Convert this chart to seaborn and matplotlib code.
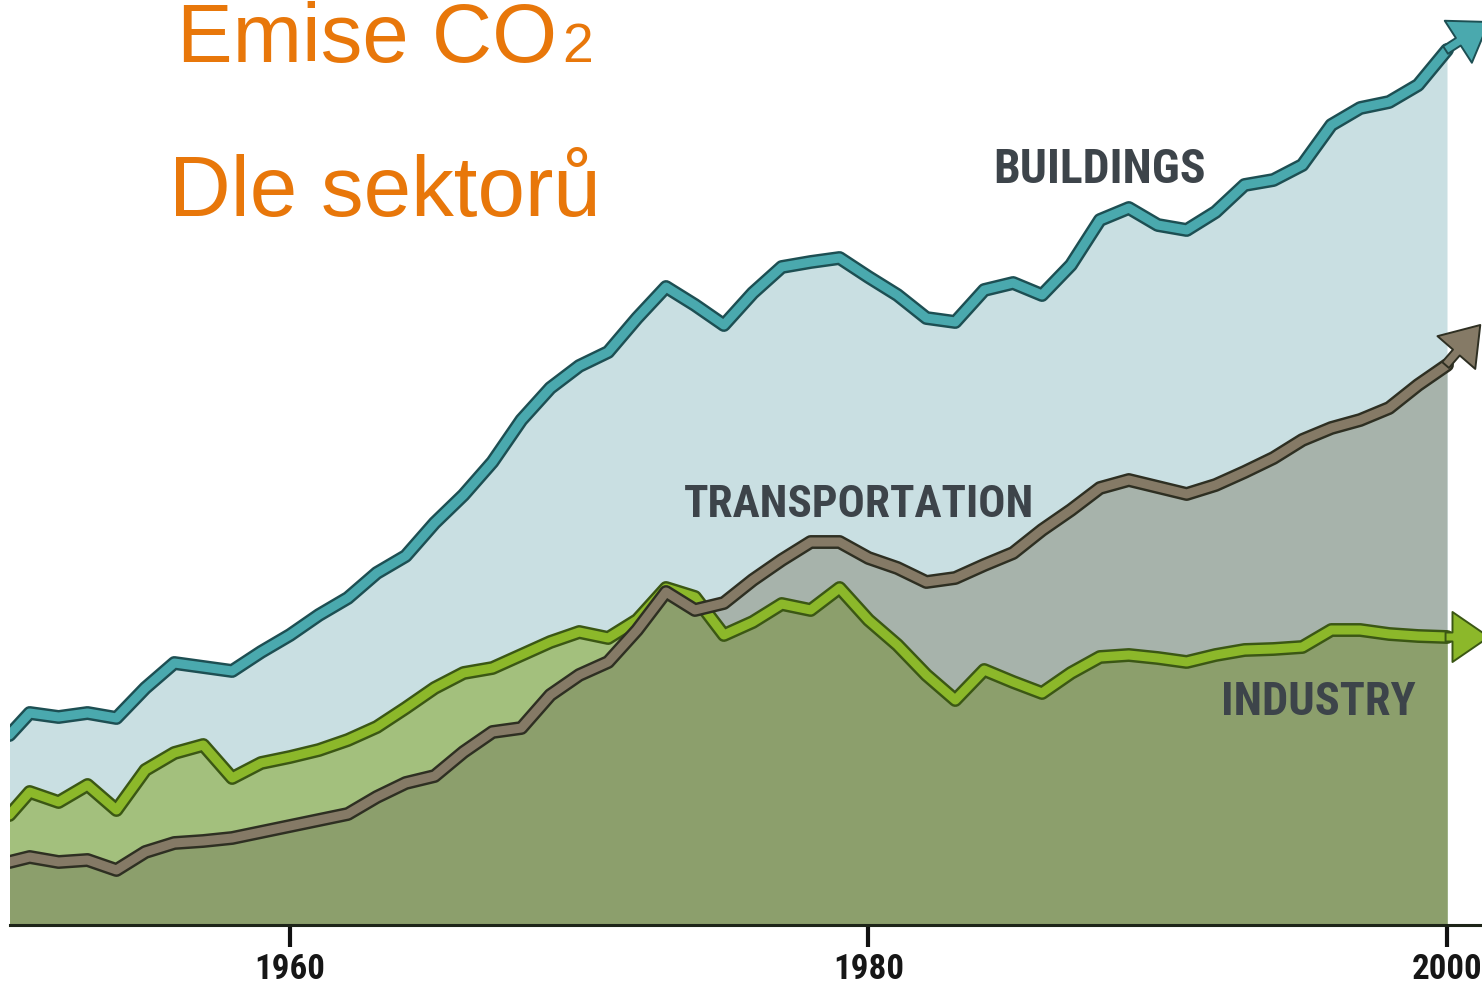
import matplotlib
matplotlib.use("Agg")
import matplotlib.pyplot as plt
import matplotlib.patheffects as pe
from matplotlib.patches import FancyArrowPatch
from matplotlib import font_manager
import numpy as np
import pandas as pd
import seaborn as sns

# values (relative units, 0 = baseline)
years = [1950.3] + list(range(1951, 2001))
buildings = [190, 212, 208, 212, 207, 237, 262, 258, 254, 273,
             290, 310, 327, 352, 369, 402, 430, 463, 505, 537,
             559, 573, 607, 638, 620, 600, 632, 658, 663, 667,
             648, 630, 607, 603, 635, 642, 630, 660, 705, 717,
             700, 695, 713, 740, 745, 760, 800, 817, 823, 840,
             875]
transportation = [63, 68, 63, 65, 55, 73, 82, 84, 87, 93,
                  99, 105, 111, 128, 142, 149, 173, 193, 197, 230,
                  250, 263, 295, 333, 315, 322, 345, 365, 383, 383,
                  367, 357, 343, 347, 360, 372, 395, 415, 437, 445,
                  438, 431, 440, 453, 467, 485, 497, 505, 517, 540,
                  560]
industry = [110, 133, 123, 140, 115, 155, 172, 180, 147, 162,
            168, 175, 185, 198, 217, 237, 252, 257, 270, 283,
            293, 287, 305, 337, 328, 290, 303, 321, 315, 337,
            305, 280, 250, 225, 255, 243, 232, 252, 268, 270,
            267, 263, 270, 275, 276, 278, 295, 295, 291, 289,
            288]
tick_years = [1960, 1980, 2000]
sector_labels = ["BUILDINGS", "TRANSPORTATION", "INDUSTRY"]

# styling
line_colors = {"Buildings": "#4aa9ae", "Transportation": "#857a66", "Industry": "#8cb82a"}
edge_colors = {"Buildings": "#1d4f53", "Transportation": "#2e2f22", "Industry": "#3b5714"}
# arrow head direction at the right end (years, units)
arrow_run = {"Buildings": 1.45, "Transportation": 1.15, "Industry": 1.45}
arrow_rise = {"Buildings": 28, "Transportation": 40, "Industry": 0}
fill_buildings = "#c9dfe2"
fill_transport = "#a7b3ab"
fill_industry = "#a3c07d"
fill_overlap = "#8c9f6c"
label_color = "#3d444a"
title_color = "#e8770a"


def condensed_family():
    # look for a narrow / condensed bold face among the installed fonts
    for fam in ["Liberation Sans Narrow", "Roboto Condensed", "Open Sans Condensed",
                "Noto Sans", "Open Sans", "DejaVu Sans"]:
        try:
            path = font_manager.findfont(
                font_manager.FontProperties(family=fam, weight="bold", stretch="condensed"),
                fallback_to_default=False)
        except ValueError:
            continue
        name = path.lower()
        if "narrow" in name or "condensed" in name:
            return fam
    return "DejaVu Sans"


sns.set_theme(style="white")
plt.rcParams["font.family"] = ["Liberation Sans", "DejaVu Sans"]
narrow = condensed_family()

df = pd.DataFrame({
    "year": years * 3,
    "value": buildings + transportation + industry,
    "sector": ["Buildings"] * len(years) + ["Transportation"] * len(years) + ["Industry"] * len(years),
})

fig = plt.figure(figsize=(14.82, 9.90), dpi=100, facecolor="white")
ax = fig.add_axes([10 / 1482, 65 / 990, 1472 / 1482, 925 / 990])
ax.set_facecolor("none")

x = np.array(years)
b = np.array(buildings)
t = np.array(transportation)
i = np.array(industry)

# filled areas
ax.fill_between(x, 0, b, color=fill_buildings, lw=0, zorder=1)
ax.fill_between(x, 0, t, color=fill_transport, lw=0, zorder=2)
ax.fill_between(x, 0, i, color=fill_industry, lw=0, zorder=3)
ax.fill_between(x, 0, np.minimum(t, i), color=fill_overlap, lw=0, zorder=4)

# outlined lines
order = ["Buildings", "Industry", "Transportation"]
for k, name in enumerate(order):
    sub = df[df["sector"] == name]
    sns.lineplot(data=sub, x="year", y="value", color=line_colors[name], lw=6.5,
                 estimator=None, sort=False, ax=ax, zorder=10 + 2 * k)
    ln = ax.lines[-1]
    ln.set_solid_joinstyle("round")
    ln.set_solid_capstyle("round")
    ln.set_path_effects([pe.Stroke(linewidth=10, foreground=edge_colors[name]), pe.Normal()])

    last_x = sub["year"].iloc[-1]
    last_y = sub["value"].iloc[-1]
    arr = FancyArrowPatch((last_x - 0.05, last_y),
                          (last_x + arrow_run[name], last_y + arrow_rise[name]),
                          arrowstyle="simple,head_length=1.75,head_width=2.4,tail_width=0.43",
                          mutation_scale=15, fc=line_colors[name], ec=edge_colors[name],
                          lw=1.4, shrinkA=0, shrinkB=0, clip_on=False, zorder=11 + 2 * k)
    ax.add_patch(arr)

# sector labels
label_kw = dict(family=narrow, weight="bold", fontsize=30, color=label_color,
                ha="left", va="baseline", zorder=30)
if narrow == "DejaVu Sans":
    label_kw["fontstretch"] = "condensed"
labels = [
    ax.text(1984.3, 742, sector_labels[0], **label_kw),
    ax.text(1973.6, 408, sector_labels[1], **label_kw),
    ax.text(1992.2, 210, sector_labels[2], **label_kw),
]
label_widths = [212, 350, 195]

# axes
ax.set_xlim(1950.32, 2001.21)
ax.set_ylim(0, 925)
ax.set_xticks(tick_years)
ax.set_xticklabels([str(y) for y in tick_years])
ax.set_yticks([])
ax.set_xlabel("")
ax.set_ylabel("")
for side in ["top", "left", "right"]:
    ax.spines[side].set_visible(False)
ax.spines["bottom"].set_color("#1d2418")
ax.spines["bottom"].set_linewidth(2.2)
ax.spines["bottom"].set_zorder(40)
ax.tick_params(axis="x", direction="out", length=16, width=3, color="#111111",
               pad=4, labelsize=26, labelcolor="#161616", bottom=True)
for lab in ax.get_xticklabels():
    lab.set_family(narrow)
    lab.set_fontweight("bold")
    if narrow == "DejaVu Sans":
        lab.set_fontstretch("condensed")

# title
fig.text(177 / 1482, 1 - 62 / 990, "Emise CO", fontsize=60, color=title_color,
         ha="left", va="baseline")
fig.text(562 / 1482, 1 - 62 / 990, "2", fontsize=40, color=title_color,
         ha="left", va="baseline")
fig.text(169 / 1482, 1 - 216 / 990, "Dle sektorů", fontsize=61.5, color=title_color,
         ha="left", va="baseline")

# fit the label sizes to the widths they have in the picture
fig.canvas.draw()
renderer = fig.canvas.get_renderer()
for txt, target in zip(labels, label_widths):
    w = txt.get_window_extent(renderer).width
    txt.set_fontsize(txt.get_fontsize() * target / w)
first_tick = ax.get_xticklabels()[0]
w = first_tick.get_window_extent(renderer).width
ax.tick_params(axis="x", labelsize=first_tick.get_fontsize() * 71 / w)

fig.savefig("out.png", dpi=100, facecolor="white")
